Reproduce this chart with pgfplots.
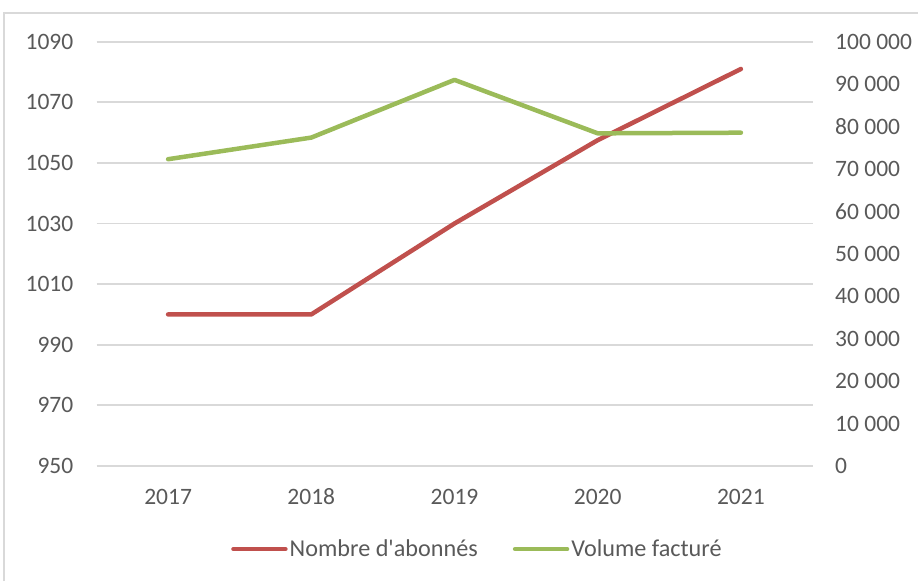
\documentclass[border=0pt]{standalone}
\usepackage{pgfplots}
\pgfplotsset{compat=1.18}
\usepackage{fontspec}
\setmainfont{Carlito}
\definecolor{redline}{HTML}{C0504D}
\definecolor{greenline}{HTML}{9BBB59}
\definecolor{gridgray}{HTML}{D9D9D9}
\definecolor{labelgray}{HTML}{595959}
\pgfplotsset{common/.style={
  scale only axis, width=716pt, height=424.2pt,
  at={(96.5pt,-465.9pt)}, anchor=south west,
  xmin=2016.5, xmax=2021.5,
  major tick length=0pt,
  axis line style={draw=none},
  tick label style={font=\fontsize{23.5}{28}\selectfont, text=labelgray},
  /pgf/number format/assume math mode=true,
  /pgf/number format/1000 sep={},
  clip=false,
}}
\begin{document}
\begin{tikzpicture}
\useasboundingbox (0pt,0pt) rectangle (918pt,-581pt);
\draw[gridgray, line width=1.5pt] (4pt,-581pt) -- (4pt,-13pt) -- (918pt,-13pt);
\begin{axis}[common,
  ymin=950, ymax=1090,
  ytick={950,970,990,1010,1030,1050,1070,1090},
  xtick={2017,2018,2019,2020,2021},
  ymajorgrids,
  grid style={gridgray, line width=1.8pt},
  yticklabel style={anchor=east, inner sep=0pt, xshift=-23pt},
  xticklabel style={anchor=base, inner sep=0pt, yshift=-39pt},
  legend style={at={(0.532,-0.196)}, anchor=center, draw=none, fill=none,
    legend columns=2, font=\fontsize{24.2}{29}\selectfont, text=labelgray,
    /tikz/every even column/.append style={column sep=33pt}},
  legend image code/.code={\draw[#1, line cap=round] (0pt,0pt) -- (52pt,0pt);},
]
\addplot[redline, line width=4.5pt, line cap=round, line join=round]
  coordinates {(2017,1000) (2018,1000) (2019,1030) (2020,1057.5) (2021,1081)};
\addlegendentry{Nombre d\textquotesingle abonnés}
\addlegendimage{greenline, line width=4.5pt}
\addlegendentry{Volume facturé}
\end{axis}
\begin{axis}[common,
  ymin=0, ymax=100000,
  ytick={0,10000,20000,30000,40000,50000,60000,70000,80000,90000,100000},
  yticklabels={0,10 000,20 000,30 000,40 000,50 000,60 000,70 000,80 000,90 000,100 000},
  scaled y ticks=false,
  xtick=\empty,
  yticklabel pos=right,
  yticklabel style={anchor=west, inner sep=0pt, xshift=22.5pt},
]
\addplot[greenline, line width=4.5pt, line cap=round, line join=round]
  coordinates {(2017,72300) (2018,77400) (2019,91000) (2020,78400) (2021,78550)};
\end{axis}
\end{tikzpicture}
\end{document}
